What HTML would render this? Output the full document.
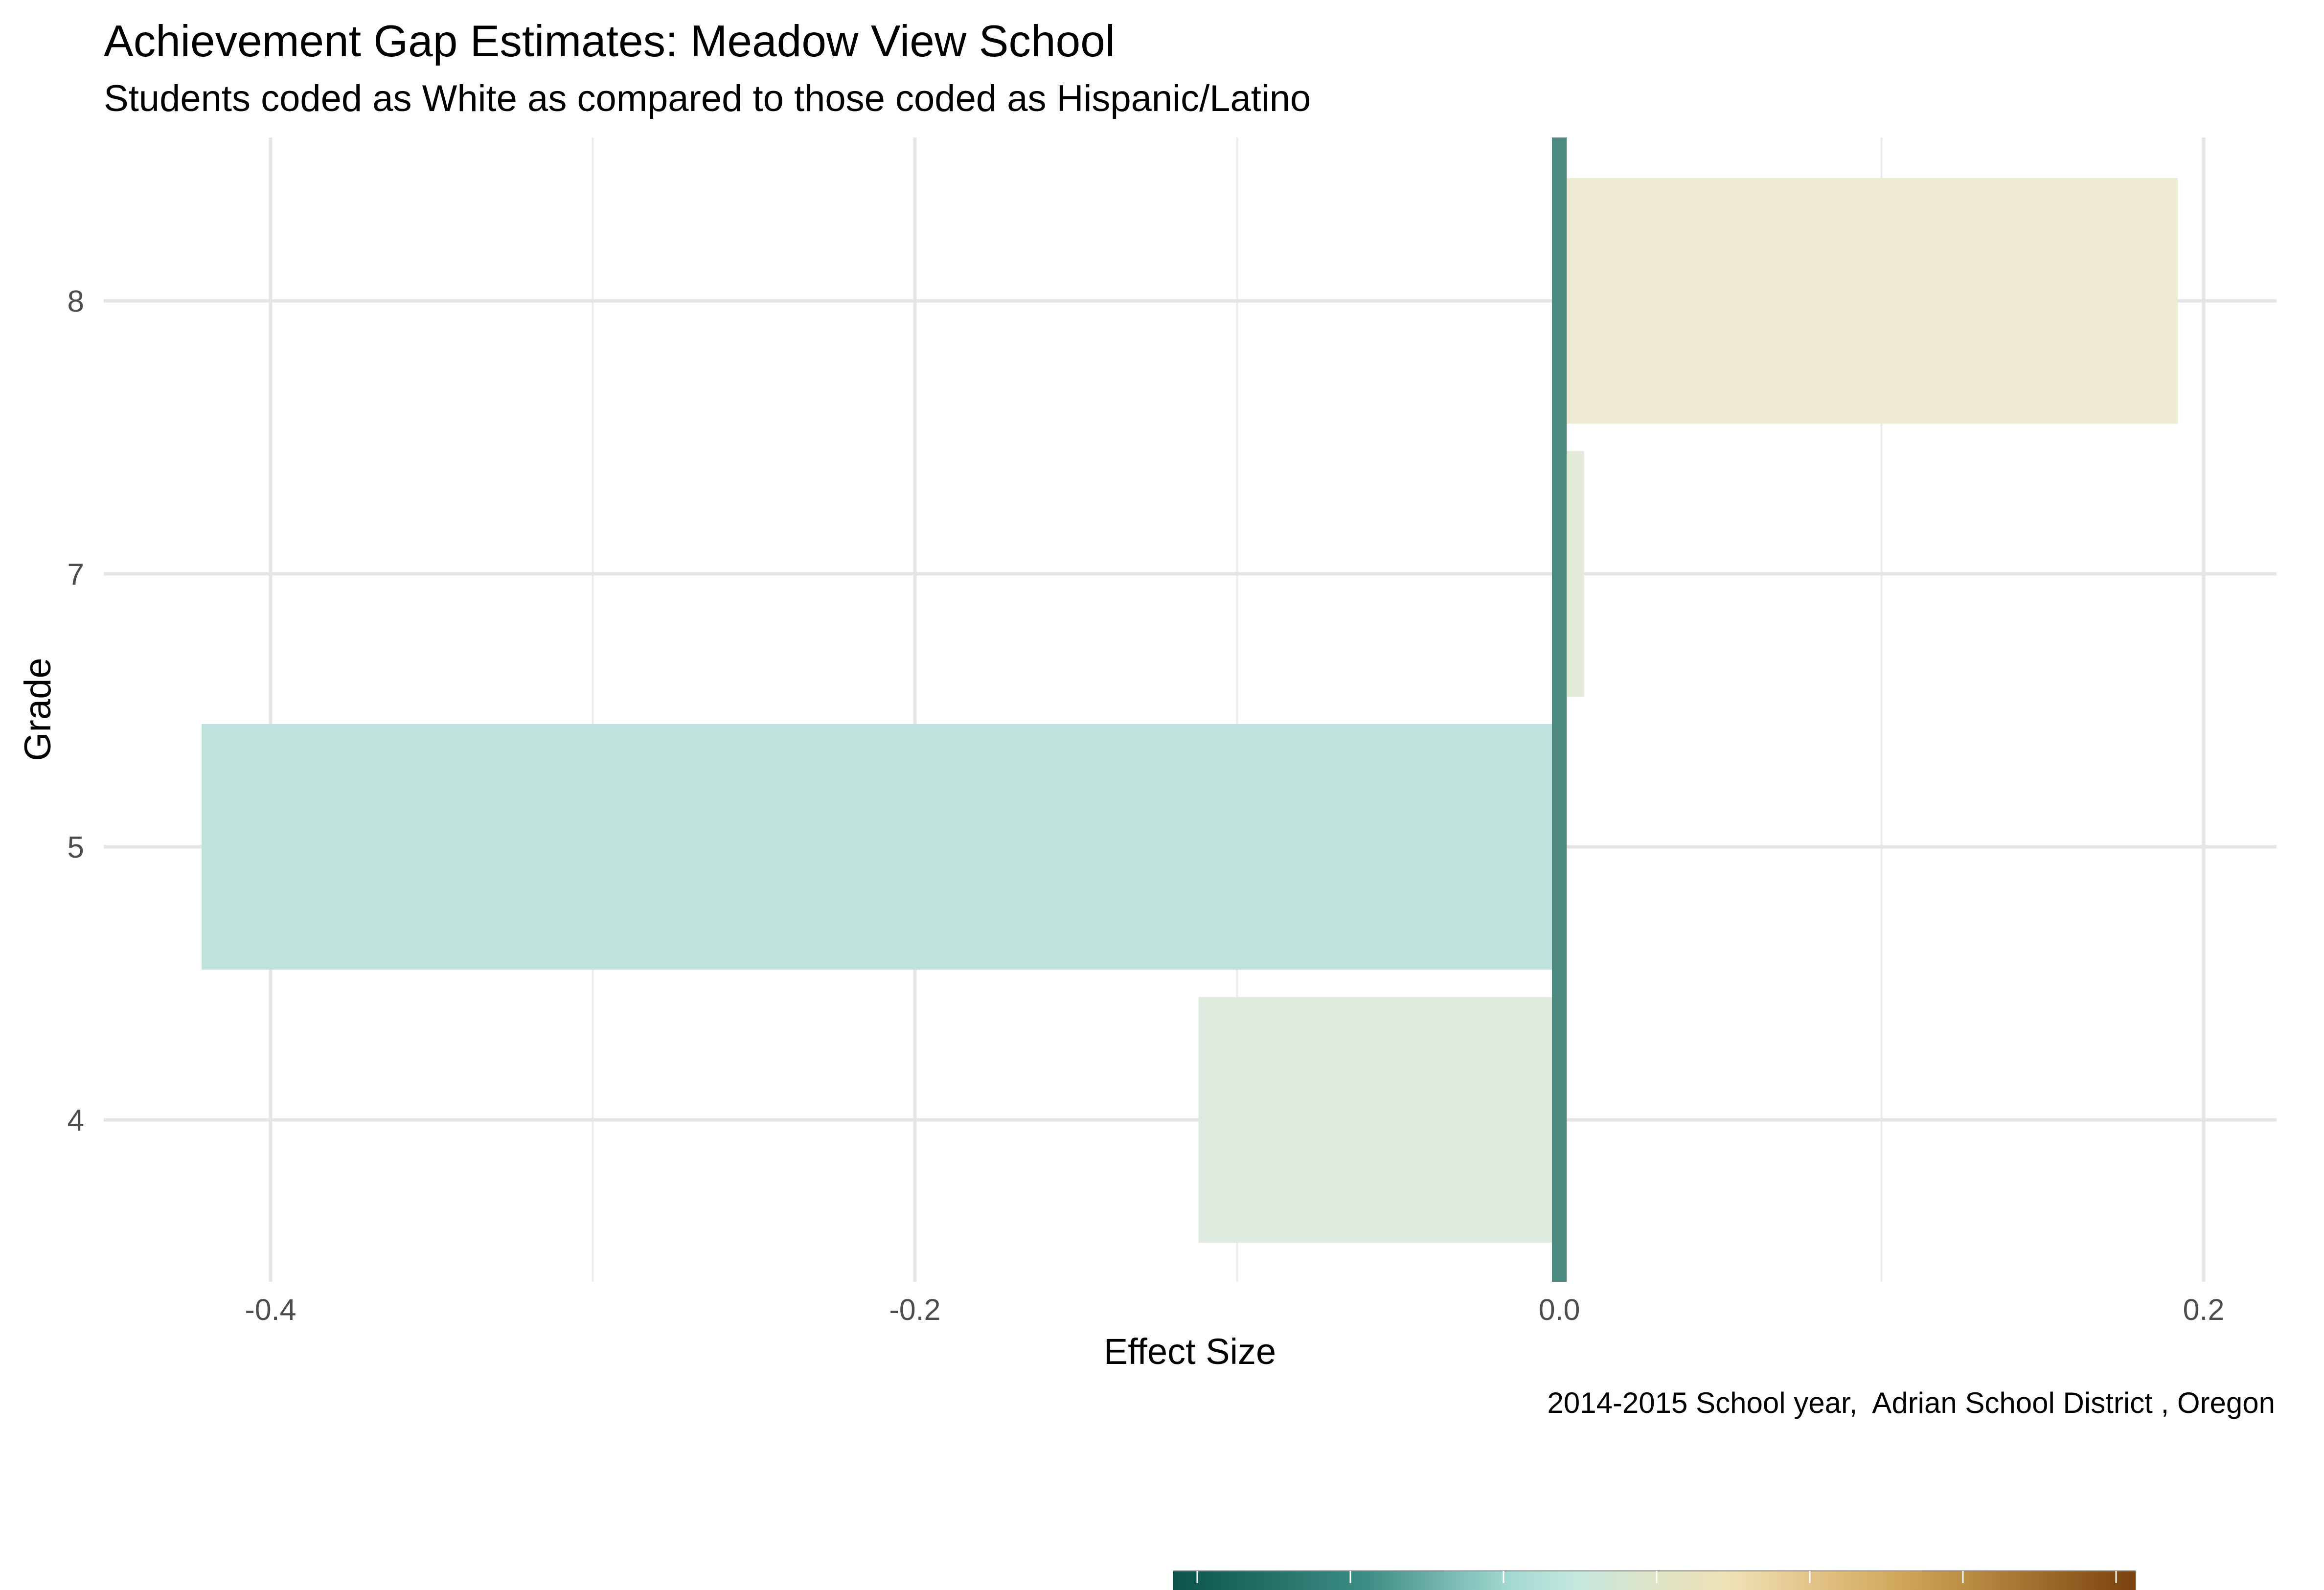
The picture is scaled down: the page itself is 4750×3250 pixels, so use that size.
<!DOCTYPE html>
<html><head><meta charset="utf-8"><title>Achievement Gap Estimates</title>
<style>html,body{margin:0;padding:0;background:#fff}svg{display:block}text{font-family:"Liberation Sans",Arial,sans-serif}</style>
</head><body>
<svg id="chart" width="4750" height="3250" viewBox="0 0 4750 3250" xmlns="http://www.w3.org/2000/svg">
<defs>
<linearGradient id="bbg" x1="0" x2="1" y1="0" y2="0">
<stop offset="0" stop-color="#0b544b"/>
<stop offset="0.2" stop-color="#3d8d84"/>
<stop offset="0.35" stop-color="#a3d9d2"/>
<stop offset="0.42" stop-color="#c4e8de"/>
<stop offset="0.5" stop-color="#dfe4c6"/>
<stop offset="0.58" stop-color="#efe1b5"/>
<stop offset="0.66" stop-color="#e3c58a"/>
<stop offset="0.75" stop-color="#d1a95c"/>
<stop offset="0.83" stop-color="#b88b42"/>
<stop offset="1" stop-color="#7a410e"/>
</linearGradient>
</defs>
<text x="212" y="115" font-size="91" fill="#000">Achievement Gap Estimates: Meadow View School</text>
<text x="212" y="227" font-size="76" fill="#000">Students coded as White as compared to those coded as Hispanic/Latino</text>
<g id="grid"></g>
<g id="bars"></g>
<g id="axes"></g>
<text x="2432" y="2788" font-size="74" text-anchor="middle" fill="#000">Effect Size</text>
<text transform="translate(103,1450) rotate(-90)" font-size="76" text-anchor="middle" fill="#000">Grade</text>
<text x="4650" y="2888" font-size="60" text-anchor="end" fill="#000" style="white-space:pre" xml:space="preserve">2014-2015 School year,  Adrian School District , Oregon</text>
<g>
<rect x="2398" y="3211" width="1967" height="39" fill="url(#bbg)"/>
<line x1="2398" x2="4365" y1="3211" y2="3211" stroke="#888" stroke-width="2"/>
<g id="legendTicks"></g>
</g>
</svg>
<script>
const grades = ["8","7","5","4"];
const effectSizes = [0.192, 0.0077, -0.4214, -0.112];
const barColors = ["#efebd3","#e3ecd9","#bfe3dc","#deebde"];
const xMajorTicks = [-0.4, -0.2, 0.0, 0.2];
const xTickLabels = ["-0.4","-0.2","0.0","0.2"];
const xMinorTicks = [-0.3, -0.1, 0.1];
const legendTickValues = [-0.4, -0.3, -0.2, -0.1, 0.0, 0.1, 0.2];

const NS = "http://www.w3.org/2000/svg";
const panel = {left:212, right:4653, top:281, bottom:2620};
const x0px = 3187, perUnit = 6585;
function xScale(v){ return x0px + v*perUnit; }
const bandTop = 615, bandStep = 558;
function yScale(i){ return bandTop + i*bandStep; }
function mk(tag, attrs, parent){ const e=document.createElementNS(NS,tag); for(const k in attrs) e.setAttribute(k,attrs[k]); parent.appendChild(e); return e; }

const grid = document.getElementById('grid');
xMinorTicks.forEach(v=>{
  const l = mk('line',{x1:xScale(v),x2:xScale(v),y1:panel.top,y2:panel.bottom,stroke:'#ececec','stroke-width':4},grid);
  
  
});
xMajorTicks.forEach(v=>{
  const l = mk('line',{x1:xScale(v),x2:xScale(v),y1:panel.top,y2:panel.bottom,stroke:'#e5e5e5','stroke-width':7},grid);
  
  
});
grades.forEach((g,i)=>{
  const l = mk('line',{x1:panel.left,x2:panel.right,y1:yScale(i),y2:yScale(i),stroke:'#e5e5e5','stroke-width':7},grid);
  
  
});

const bars = document.getElementById('bars');
const bh = bandStep*0.9;
effectSizes.forEach((v,i)=>{
  const xa = Math.min(xScale(0),xScale(v)), xb = Math.max(xScale(0),xScale(v));
  const r = mk('rect',{x:xa,y:yScale(i)-bh/2,width:xb-xa,height:bh,fill:barColors[i]},bars);
  
  
});
const zl = mk('rect',{x:xScale(0)-15,y:panel.top,width:30,height:panel.bottom-panel.top,fill:'#4e8980'},bars);



const axes = document.getElementById('axes');
xMajorTicks.forEach((v,i)=>{
  const t = mk('text',{x:xScale(v),y:2698,'font-size':61,'text-anchor':'middle',fill:'#4d4d4d'},axes);
  t.textContent = xTickLabels[i];
  
  
});
grades.forEach((g,i)=>{
  const t = mk('text',{x:172,y:yScale(i)+22,'font-size':62,'text-anchor':'end',fill:'#4d4d4d'},axes);
  t.textContent = g;
  
  
});

const lt = document.getElementById('legendTicks');
legendTickValues.forEach((v,i)=>{
  const x = 2447 + i*313;
  const l = mk('line',{x1:x,x2:x,y1:3211,y2:3236,stroke:'#fff','stroke-width':3},lt);
  
  
});
</script>
</body></html>
